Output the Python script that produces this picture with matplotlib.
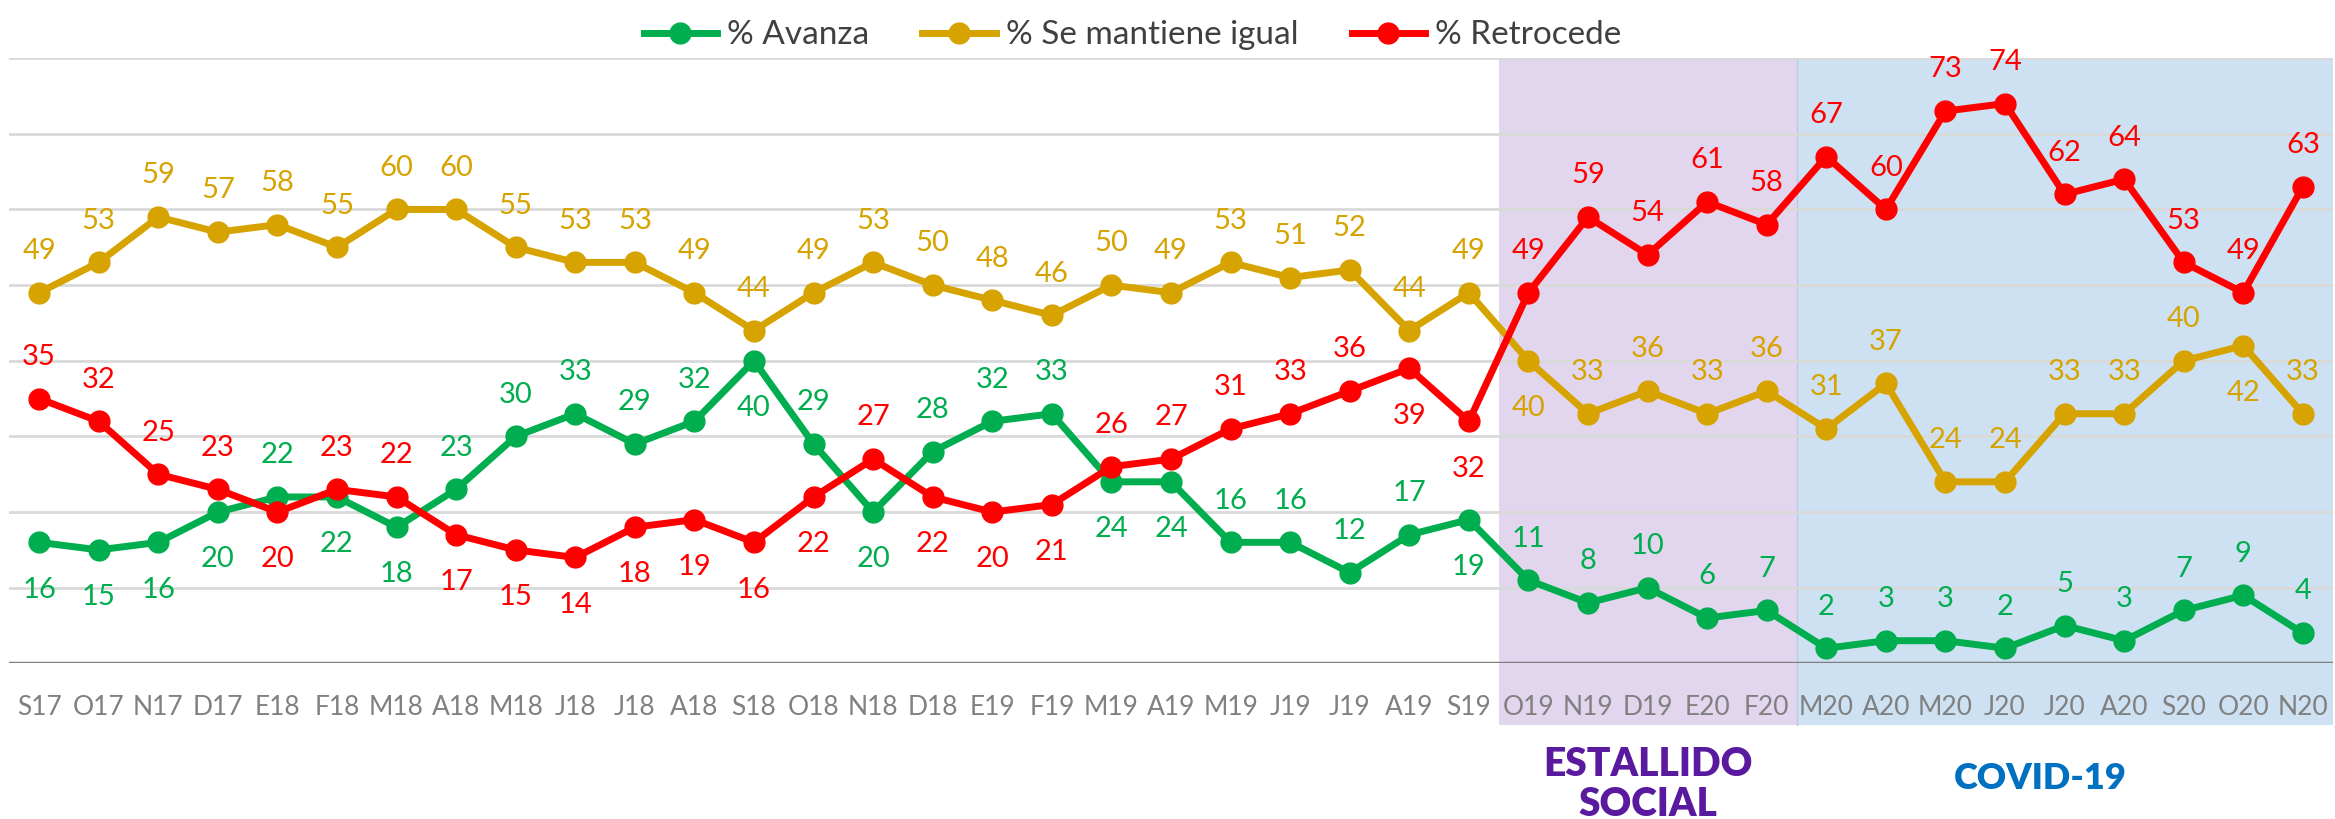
import numpy as np
import matplotlib
matplotlib.use("Agg")
from matplotlib import pyplot as plt
from matplotlib import transforms

months = ["S17", "O17", "N17", "D17", "E18", "F18", "M18", "A18", "M18", "J18",
          "J18", "A18", "S18", "O18", "N18", "D18", "E19", "F19", "M19", "A19",
          "M19", "J19", "J19", "A19", "S19", "O19", "N19", "D19", "E20", "F20",
          "M20", "A20", "M20", "J20", "J20", "A20", "S20", "O20", "N20"]

avanza = [16, 15, 16, 20, 22, 22, 18, 23, 30, 33, 29, 32, 40, 29, 20, 28, 32, 33, 24, 24,
          16, 16, 12, 17, 19, 11, 8, 10, 6, 7, 2, 3, 3, 2, 5, 3, 7, 9, 4]
mantiene = [49, 53, 59, 57, 58, 55, 60, 60, 55, 53, 53, 49, 44, 49, 53, 50, 48, 46, 50, 49,
            53, 51, 52, 44, 49, 40, 33, 36, 33, 36, 31, 37, 24, 24, 33, 33, 40, 42, 33]
retrocede = [35, 32, 25, 23, 20, 23, 22, 17, 15, 14, 18, 19, 16, 22, 27, 22, 20, 21, 26, 27,
             31, 33, 36, 39, 32, 49, 59, 54, 61, 58, 67, 60, 73, 74, 62, 64, 53, 49, 63]

# label placement: 1 = above the point, -1 = below
avanza_pos = [-1, -1, -1, -1, 1, -1, -1, 1, 1, 1, 1, 1, -1, 1, -1, 1, 1, 1, -1, -1,
              1, 1, 1, 1, -1, 1, 1, 1, 1, 1, 1, 1, 1, 1, 1, 1, 1, 1, 1]
mantiene_pos = [1] * 25 + [-1] + [1] * 11 + [-1, 1]
retrocede_pos = [1, 1, 1, 1, -1, 1, 1, -1, -1, -1, -1, -1, -1, -1, 1, -1, -1, -1, 1, 1,
                 1, 1, 1, -1, -1] + [1] * 14

series = [
    ("% Avanza", avanza, avanza_pos, "#00AD4F"),
    ("% Se mantiene igual", mantiene, mantiene_pos, "#D6A300"),
    ("% Retrocede", retrocede, retrocede_pos, "#FF0000"),
]

plt.rcParams["font.family"] = ["Lato", "DejaVu Sans"]

fig = plt.figure(figsize=(23.35, 8.19), dpi=100)
ax = fig.add_axes([0.004, 0.19, 0.995, 0.739])

x = np.arange(len(months))
ax.set_xlim(-0.5, len(months) - 0.5)
ax.set_ylim(0, 80)

# shaded periods, extending below the axis over the tick labels
ax.axvspan(24.5, 29.5, ymin=-0.102, ymax=1, color="#E2D6EE", zorder=0, clip_on=False, lw=0)
ax.axvspan(29.5, 38.5, ymin=-0.102, ymax=1, color="#CDE1F2", zorder=0, clip_on=False, lw=0)
ax.axvline(29.5, ymin=-0.102, ymax=1, color="#B8C8E6", lw=1, zorder=0.5, clip_on=False)

for g in range(10, 90, 10):
    ax.axhline(g, color="#D9D9D9", lw=2, zorder=1)
ax.axhline(0, color="#808080", lw=2.5, zorder=1)

for name, vals, pos, col in series:
    ax.plot(x, vals, color=col, lw=5, marker="o", ms=15, label=name, zorder=3)
    for xi, v, p in zip(x, vals, pos):
        off = 30 if p > 0 else -34
        ax.annotate(str(v), (xi, v), xytext=(0, off), textcoords="offset points",
                    ha="center", va="center", fontsize=21, color=col, zorder=4)

for s in ax.spines.values():
    s.set_visible(False)
ax.set_yticks([])
ax.set_xticks(x)
ax.set_xticklabels(months, fontsize=19, color="#808080")
ax.tick_params(axis="x", length=0, pad=23)

trans = transforms.blended_transform_factory(ax.transData, ax.transAxes)
ax.text(27, -0.2, "ESTALLIDO\nSOCIAL", transform=trans, ha="center", va="center",
        fontsize=28, fontweight="heavy", color="#5A1AA0", linespacing=1.1)
ax.text(33.6, -0.19, "COVID-19", transform=trans, ha="center", va="center",
        fontsize=26, fontweight="heavy", color="#0070C0")

leg = fig.legend(loc="upper center", bbox_to_anchor=(0.485, 1.012), ncol=3, frameon=False,
                 fontsize=24, handlelength=2.2, columnspacing=1.6, handletextpad=0.3)
for t in leg.get_texts():
    t.set_color("#404040")

fig.savefig("out.png", dpi=100)
